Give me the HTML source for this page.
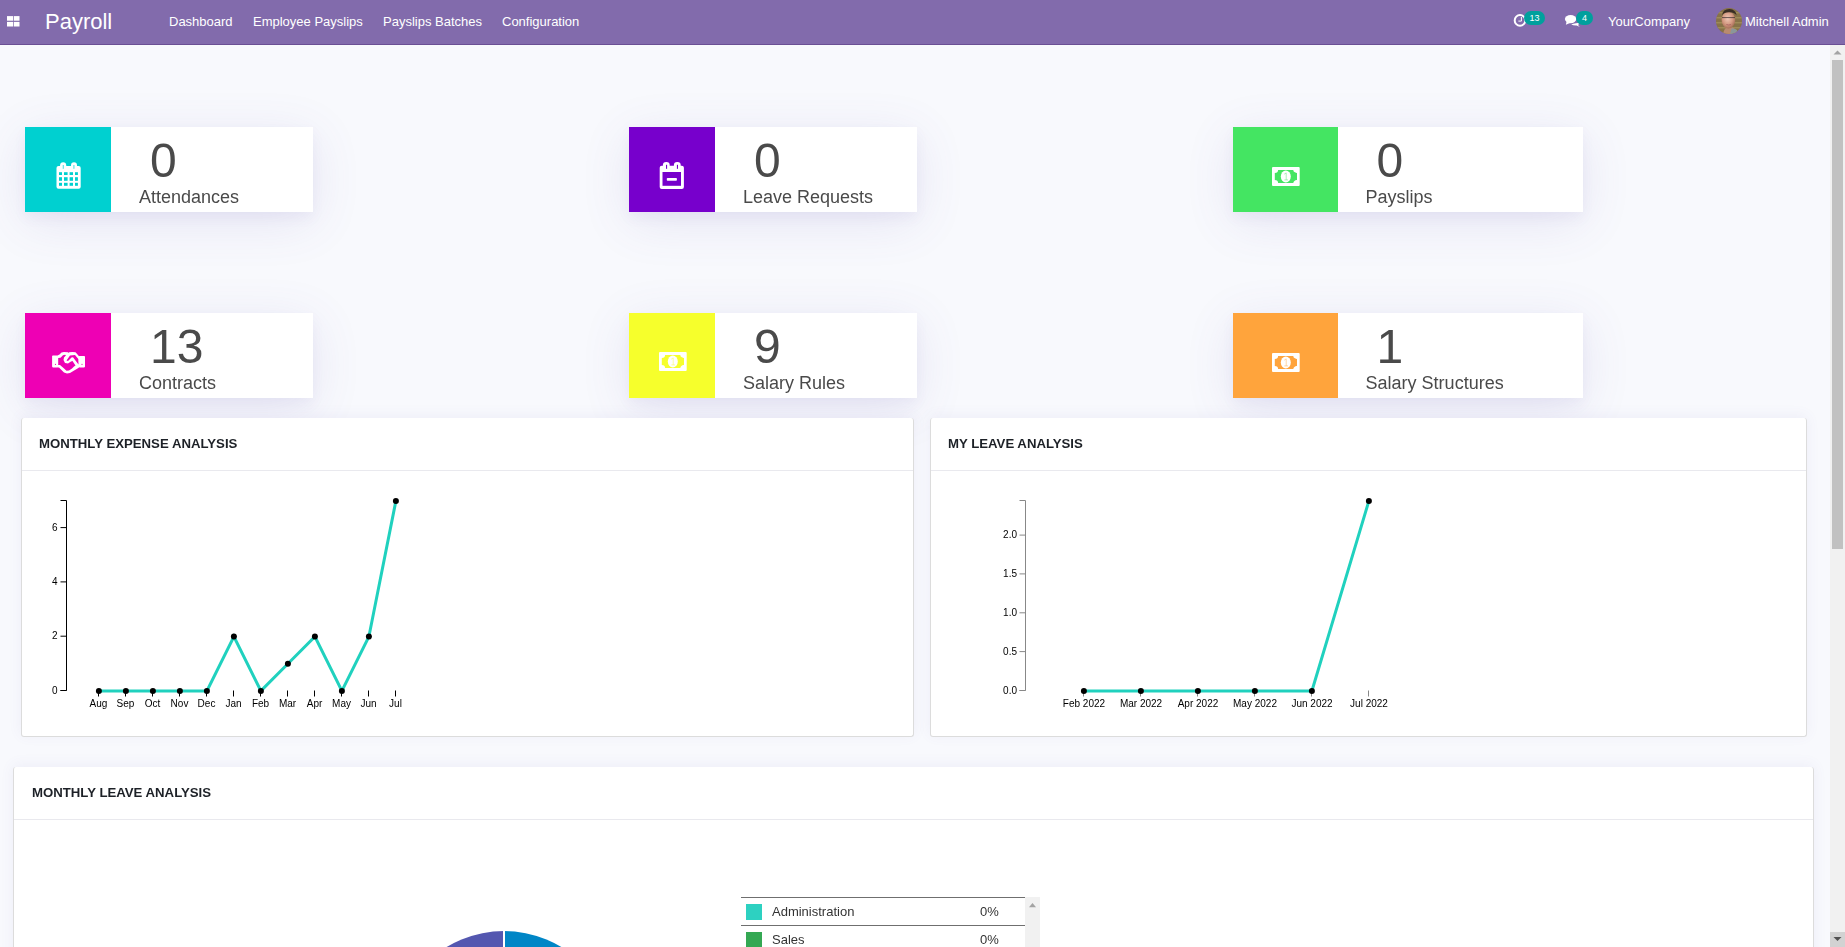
<!DOCTYPE html>
<html>
<head>
<meta charset="utf-8">
<style>
html,body{margin:0;padding:0;}
body{width:1845px;height:947px;overflow:hidden;position:relative;background:#f8f9fd;font-family:"Liberation Sans",sans-serif;}
.abs{position:absolute;}
.gs{will-change:transform;}
#nav{left:0;top:0;width:1845px;height:44px;background:#826bac;border-bottom:1px solid #6a4f94;}
.nav-t{position:absolute;color:#fff;font-size:13px;line-height:15px;white-space:nowrap;}
.card{will-change:transform;position:absolute;height:85px;background:#fff;box-shadow:0 6px 12px rgba(95,85,170,0.06),0 10px 50px rgba(95,85,170,0.12);}
.card .ic{position:absolute;left:0;top:0;height:85px;}
.card .num{position:absolute;font-size:48px;line-height:55px;color:#4a4a4a;white-space:nowrap;}
.card .lbl{position:absolute;font-size:18px;line-height:21px;color:#4a4a4a;white-space:nowrap;}
.panel{will-change:transform;position:absolute;background:#fff;border:1px solid #dcdcdc;border-top:0;border-radius:3px;box-shadow:0 -2px 14px rgba(95,85,170,0.07);}
.panel .hd{position:absolute;left:0;top:0;right:0;height:52px;border-bottom:1px solid #e9e9ee;}
.panel .ttl{position:absolute;font-size:13.2px;font-weight:bold;color:#1d2127;white-space:nowrap;line-height:15px;}
svg text{font-family:"Liberation Sans",sans-serif;}
</style>
</head>
<body>
<!-- NAVBAR -->
<div id="nav" class="abs">
  <svg class="abs" style="left:6.8px;top:15.5px" width="13" height="12" viewBox="0 0 13 12">
    <rect x="0" y="0.1" width="6.2" height="4.6" fill="#fff"/>
    <rect x="6.9" y="0.1" width="5.6" height="4.6" fill="#fff"/>
    <rect x="0" y="5.9" width="6.2" height="4.6" fill="#fff"/>
    <rect x="6.9" y="5.9" width="5.6" height="4.6" fill="#fff"/>
  </svg>
  <div class="nav-t" style="left:45px;top:9px;font-size:22px;line-height:25px;">Payroll</div>
  <div class="nav-t" style="left:169px;top:14px;">Dashboard</div>
  <div class="nav-t" style="left:253px;top:14px;">Employee Payslips</div>
  <div class="nav-t" style="left:383px;top:14px;">Payslips Batches</div>
  <div class="nav-t" style="left:502px;top:14px;">Configuration</div>

  <!-- activity clock -->
  <svg class="abs" style="left:1512px;top:12px" width="16" height="17" viewBox="0 0 16 17">
    <circle cx="8" cy="8.4" r="5.3" fill="none" stroke="#fff" stroke-width="2"/>
    <path d="M9.4 5V9.1H6.4" fill="none" stroke="#fff" stroke-width="1"/>
  </svg>
  <div class="abs" style="left:1524px;top:11px;width:21px;height:14px;border-radius:7px;background:#00a09d;color:#fff;font-size:9px;line-height:14px;text-align:center;">13</div>
  <!-- chat -->
  <svg class="abs" style="left:1564px;top:13px" width="18" height="16" viewBox="0 0 18 16">
    <ellipse cx="6.6" cy="6.1" rx="5.7" ry="4.2" fill="#fff"/>
    <path d="M2.6 8.6 L1.9 11.7 L6 9.9Z" fill="#fff"/>
    <path d="M7.2 11.4 Q9 10.6 12 10.2 Q14.5 10 15 9.5 L14.3 12.6 L16 14 L12.6 12.5 Q9 12.6 7.2 11.4Z" fill="#fff"/>
  </svg>
  <div class="abs" style="left:1576px;top:11px;width:17px;height:14px;border-radius:7px;background:#00a09d;color:#fff;font-size:9px;line-height:14px;text-align:center;">4</div>
  <div class="nav-t" style="left:1608px;top:14px;">YourCompany</div>
  <!-- avatar -->
  <svg class="abs" style="left:1716px;top:8px" width="26" height="26" viewBox="0 0 26 26">
    <defs><clipPath id="av"><circle cx="13" cy="13" r="13"/></clipPath>
    <radialGradient id="fg" cx="0.45" cy="0.4" r="0.6"><stop offset="0" stop-color="#f0c8b8"/><stop offset="0.6" stop-color="#d49a82"/><stop offset="1" stop-color="#a86e58"/></radialGradient></defs>
    <g clip-path="url(#av)">
      <rect width="26" height="26" fill="#877248"/>
      <rect x="0" y="4" width="26" height="1.5" fill="#a89560" opacity=".7"/>
      <rect x="0" y="9" width="26" height="1.5" fill="#a89560" opacity=".7"/>
      <rect x="0" y="14" width="26" height="1.5" fill="#a89560" opacity=".7"/>
      <rect x="0" y="19" width="26" height="1.5" fill="#a89560" opacity=".7"/>
      <path d="M0 18 L6 26 H0Z" fill="#6a4e34" opacity=".8"/>
      <path d="M7 26 Q8 20 12 19 Q17 19 19 21 L21 26Z" fill="#b98a70"/>
      <path d="M14 26 L15.5 20.5 Q19 20 21 22 L22 26Z" fill="#8a969a"/>
      <ellipse cx="12.4" cy="12" rx="6.8" ry="8.6" fill="url(#fg)"/>
      <path d="M6 7 Q7 1 13.5 1 Q20 1.5 20.6 7.5 Q19 4.5 13 4.2 Q8 4.5 6 7Z" fill="#3a2e24"/>
      <path d="M6 9.6 H19" stroke="#3c3030" stroke-width="1" opacity=".75"/>
      <path d="M10.4 16.5 Q12.7 17.6 15 16.5" stroke="#b06868" stroke-width="1" fill="none"/>
    </g>
  </svg>
  <div class="nav-t" style="left:1745px;top:14px;">Mitchell Admin</div>
</div>

<!-- CARDS ROW 1 -->
<div class="card" style="left:25px;top:127px;width:288px;">
  <div class="ic" style="width:86px;background:#00d0d0;"></div>
  <div class="num" style="left:125px;top:6px;">0</div>
  <div class="lbl" style="left:114px;top:60px;">Attendances</div>
</div>
<div class="card" style="left:629px;top:127px;width:288px;">
  <div class="ic" style="width:86px;background:#7700cc;"></div>
  <div class="num" style="left:125px;top:6px;">0</div>
  <div class="lbl" style="left:114px;top:60px;">Leave Requests</div>
</div>
<div class="card" style="left:1233px;top:127px;width:350px;">
  <div class="ic" style="width:105px;background:#44e562;"></div>
  <div class="num" style="left:143.6px;top:6px;">0</div>
  <div class="lbl" style="left:132.6px;top:60px;">Payslips</div>
</div>
<!-- CARDS ROW 2 -->
<div class="card" style="left:25px;top:313px;width:288px;">
  <div class="ic" style="width:86px;background:#ee00b4;"></div>
  <div class="num" style="left:125px;top:6px;">13</div>
  <div class="lbl" style="left:114px;top:60px;">Contracts</div>
</div>
<div class="card" style="left:629px;top:313px;width:288px;">
  <div class="ic" style="width:86px;background:#f6ff2c;"></div>
  <div class="num" style="left:125px;top:6px;">9</div>
  <div class="lbl" style="left:114px;top:60px;">Salary Rules</div>
</div>
<div class="card" style="left:1233px;top:313px;width:350px;">
  <div class="ic" style="width:105px;background:#ffa43c;"></div>
  <div class="num" style="left:143.6px;top:6px;">1</div>
  <div class="lbl" style="left:132.6px;top:60px;">Salary Structures</div>
</div>

<!-- PANELS -->
<div class="panel" style="left:21px;top:418px;width:891px;height:318px;">
  <div class="hd"></div>
  <div class="ttl" style="left:17px;top:18px;">MONTHLY EXPENSE ANALYSIS</div>
</div>
<div class="panel" style="left:930px;top:418px;width:875px;height:318px;">
  <div class="hd"></div>
  <div class="ttl" style="left:17px;top:18px;">MY LEAVE ANALYSIS</div>
</div>
<div class="panel" style="left:13px;top:767px;width:1799px;height:400px;">
  <div class="hd"></div>
  <div class="ttl" style="left:18px;top:18px;">MONTHLY LEAVE ANALYSIS</div>
</div>


<!-- ICONS -->
<svg class="abs" style="left:52px;top:158px" width="34" height="34" viewBox="0 0 34 34">
  <rect x="4.5" y="7.9" width="24.2" height="22.8" rx="2" fill="#fff"/>
  <rect x="8.1" y="4.3" width="6.1" height="8" rx="3" fill="#fff"/>
  <rect x="19" y="4.3" width="6" height="8" rx="3" fill="#fff"/>
  <g fill="#00d0d0">
  <rect x="10.7" y="7" width="1.2" height="3.8" opacity=".6"/><rect x="21.3" y="7" width="1.2" height="3.8" opacity=".6"/>
  <rect x="7" y="14.2" width="3" height="2.8"/><rect x="12" y="14.2" width="3.6" height="2.8"/><rect x="17.6" y="14.2" width="3.4" height="2.8"/><rect x="23" y="14.2" width="2.9" height="2.8"/>
  <rect x="7" y="19.2" width="3" height="3.6"/><rect x="12" y="19.2" width="3.6" height="3.6"/><rect x="17.6" y="19.2" width="3.4" height="3.6"/><rect x="23" y="19.2" width="2.9" height="3.6"/>
  <rect x="7" y="24.8" width="3" height="3"/><rect x="12" y="24.8" width="3.6" height="3"/><rect x="17.6" y="24.8" width="3.4" height="3"/><rect x="23" y="24.8" width="2.9" height="3"/>
  </g>
</svg>
<svg class="abs" style="left:655px;top:158px" width="34" height="34" viewBox="0 0 34 34">
  <rect x="4.7" y="7.7" width="24.2" height="23.2" rx="2" fill="#fff"/>
  <rect x="7.9" y="3.9" width="6.8" height="8" rx="3.2" fill="#fff"/>
  <rect x="18.9" y="3.9" width="6.8" height="8" rx="3.2" fill="#fff"/>
  <g fill="#7700cc">
  <rect x="11" y="6.8" width="1.1" height="4"/><rect x="21.9" y="6.8" width="1.1" height="4"/>
  <rect x="7.5" y="14" width="18.5" height="13.8"/>
  </g>
  <rect x="11.8" y="19.9" width="10.1" height="2.9" rx="0.8" fill="#fff"/>
</svg>
<svg class="abs" style="left:1268px;top:162px" width="36" height="30" viewBox="0 0 36 30">
  <rect x="4" y="4.9" width="27.7" height="19" rx="1" fill="#fff"/>
  <path d="M10.1 7.9H25.3A3.4 3 0 0 0 29 10.9V18.1A3.4 3 0 0 0 25.3 21.1H10.1A3.4 3 0 0 0 6.8 18.1V10.9A3.4 3 0 0 0 10.1 7.9Z" fill="#44e562"/>
  <ellipse cx="17.8" cy="14.6" rx="5" ry="6" fill="#fff"/>
  <path d="M16.2 12.2L18.2 10.9V17.8M16.3 17.9H20" stroke="#44e562" stroke-width="1" fill="none" opacity="0.45"/>
</svg>
<svg class="abs" style="left:655px;top:347px" width="36" height="30" viewBox="0 0 36 30">
  <rect x="4" y="4.9" width="27.7" height="19" rx="1" fill="#fff"/>
  <path d="M10.1 7.9H25.3A3.4 3 0 0 0 29 10.9V18.1A3.4 3 0 0 0 25.3 21.1H10.1A3.4 3 0 0 0 6.8 18.1V10.9A3.4 3 0 0 0 10.1 7.9Z" fill="#f6ff2c"/>
  <ellipse cx="17.8" cy="14.6" rx="5" ry="6" fill="#fff"/>
  <path d="M16.2 12.2L18.2 10.9V17.8M16.3 17.9H20" stroke="#f6ff2c" stroke-width="1" fill="none" opacity="0.45"/>
</svg>
<svg class="abs" style="left:1268px;top:348px" width="36" height="30" viewBox="0 0 36 30">
  <rect x="4" y="4.9" width="27.7" height="19" rx="1" fill="#fff"/>
  <path d="M10.1 7.9H25.3A3.4 3 0 0 0 29 10.9V18.1A3.4 3 0 0 0 25.3 21.1H10.1A3.4 3 0 0 0 6.8 18.1V10.9A3.4 3 0 0 0 10.1 7.9Z" fill="#ffa43c"/>
  <ellipse cx="17.8" cy="14.6" rx="5" ry="6" fill="#fff"/>
  <path d="M16.2 12.2L18.2 10.9V17.8M16.3 17.9H20" stroke="#ffa43c" stroke-width="1" fill="none" opacity="0.45"/>
</svg>
<svg class="abs" style="left:48px;top:345px" width="42" height="35" viewBox="0 0 42 35">
  <rect x="4.1" y="10.5" width="5.9" height="11.9" rx="0.8" fill="#fff"/>
  <rect x="30.7" y="11.1" width="6.3" height="11.3" rx="0.8" fill="#fff"/>
  <path d="M9.5 10.5L11.5 9.5L13.5 7.5L16 7L20 7.3L20.5 7.9L21 7.3L24.5 7L27.5 7.3L29.5 9.5L31 11.2V22.4L29.5 23.5L22 28L19 28.5L16 27.5L11 22.6L9.5 22.4Z" fill="#fff"/>
  <path d="M10.2 13L12.5 12.7L15 10.2L17 9.8L18 10.3L16 12.5L15.5 15L17 18L20 18.5L23 16.5L24.5 16L27.5 20.5L26 21.5L24 23.5L21 25.5L18.5 25.8L15.5 23L12 20L10.2 20Z" fill="#ee00b4"/>
  <path d="M18.5 15.5L22 10.5L27 10L30.3 14L30.5 19.5L25 12.3L23.5 12.5L20 16Z" fill="#ee00b4"/>
  <circle cx="7.5" cy="19.3" r="0.6" fill="#ee00b4"/><circle cx="34" cy="19.3" r="0.6" fill="#ee00b4"/>
</svg>
<!-- CHARTS -->
<svg class="abs" style="left:0;top:0;overflow:visible;will-change:transform" width="1845" height="947" font-size="10" fill="#000">
<path d="M60.5,500.5H66.5V690.5H60.5" fill="none" stroke="#000" stroke-width="1"/>
<line x1="60.5" x2="66.5" y1="690.5" y2="690.5" stroke="#000"/>
<text x="57.5" y="693.7" text-anchor="end">0</text>
<line x1="60.5" x2="66.5" y1="636.2" y2="636.2" stroke="#000"/>
<text x="57.5" y="639.4" text-anchor="end">2</text>
<line x1="60.5" x2="66.5" y1="581.9" y2="581.9" stroke="#000"/>
<text x="57.5" y="585.1" text-anchor="end">4</text>
<line x1="60.5" x2="66.5" y1="527.6" y2="527.6" stroke="#000"/>
<text x="57.5" y="530.8" text-anchor="end">6</text>
<line x1="98.5" x2="98.5" y1="690.5" y2="696.5" stroke="#000"/>
<text x="98.5" y="706.6" text-anchor="middle">Aug</text>
<line x1="125.5" x2="125.5" y1="690.5" y2="696.5" stroke="#000"/>
<text x="125.5" y="706.6" text-anchor="middle">Sep</text>
<line x1="152.5" x2="152.5" y1="690.5" y2="696.5" stroke="#000"/>
<text x="152.5" y="706.6" text-anchor="middle">Oct</text>
<line x1="179.5" x2="179.5" y1="690.5" y2="696.5" stroke="#000"/>
<text x="179.5" y="706.6" text-anchor="middle">Nov</text>
<line x1="206.5" x2="206.5" y1="690.5" y2="696.5" stroke="#000"/>
<text x="206.5" y="706.6" text-anchor="middle">Dec</text>
<line x1="233.5" x2="233.5" y1="690.5" y2="696.5" stroke="#000"/>
<text x="233.5" y="706.6" text-anchor="middle">Jan</text>
<line x1="260.5" x2="260.5" y1="690.5" y2="696.5" stroke="#000"/>
<text x="260.5" y="706.6" text-anchor="middle">Feb</text>
<line x1="287.5" x2="287.5" y1="690.5" y2="696.5" stroke="#000"/>
<text x="287.5" y="706.6" text-anchor="middle">Mar</text>
<line x1="314.5" x2="314.5" y1="690.5" y2="696.5" stroke="#000"/>
<text x="314.5" y="706.6" text-anchor="middle">Apr</text>
<line x1="341.5" x2="341.5" y1="690.5" y2="696.5" stroke="#000"/>
<text x="341.5" y="706.6" text-anchor="middle">May</text>
<line x1="368.5" x2="368.5" y1="690.5" y2="696.5" stroke="#000"/>
<text x="368.5" y="706.6" text-anchor="middle">Jun</text>
<line x1="395.5" x2="395.5" y1="690.5" y2="696.5" stroke="#000"/>
<text x="395.5" y="706.6" text-anchor="middle">Jul</text>
<polyline points="98.9,690.9 125.9,690.9 152.9,690.9 179.9,690.9 206.9,690.9 233.9,636.6 260.9,690.9 287.9,663.8 314.9,636.6 341.9,690.9 368.9,636.6 395.9,500.9" fill="none" stroke="#20d1be" stroke-width="3"/>
<circle cx="98.9" cy="690.9" r="3"/>
<circle cx="125.9" cy="690.9" r="3"/>
<circle cx="152.9" cy="690.9" r="3"/>
<circle cx="179.9" cy="690.9" r="3"/>
<circle cx="206.9" cy="690.9" r="3"/>
<circle cx="233.9" cy="636.6" r="3"/>
<circle cx="260.9" cy="690.9" r="3"/>
<circle cx="287.9" cy="663.8" r="3"/>
<circle cx="314.9" cy="636.6" r="3"/>
<circle cx="341.9" cy="690.9" r="3"/>
<circle cx="368.9" cy="636.6" r="3"/>
<circle cx="395.9" cy="500.9" r="3"/>
<path d="M1019.5,500.5H1025.5V690.5H1019.5" fill="none" stroke="#888" stroke-width="1"/>
<line x1="1019.5" x2="1025.5" y1="690.5" y2="690.5" stroke="#888"/>
<text x="1017.0" y="693.7" text-anchor="end">0.0</text>
<line x1="1019.5" x2="1025.5" y1="651.6" y2="651.6" stroke="#888"/>
<text x="1017.0" y="654.8" text-anchor="end">0.5</text>
<line x1="1019.5" x2="1025.5" y1="612.8" y2="612.8" stroke="#888"/>
<text x="1017.0" y="616.0" text-anchor="end">1.0</text>
<line x1="1019.5" x2="1025.5" y1="573.9" y2="573.9" stroke="#888"/>
<text x="1017.0" y="577.1" text-anchor="end">1.5</text>
<line x1="1019.5" x2="1025.5" y1="535.1" y2="535.1" stroke="#888"/>
<text x="1017.0" y="538.3" text-anchor="end">2.0</text>
<line x1="1083.5" x2="1083.5" y1="690.5" y2="696.5" stroke="#888"/>
<text x="1084.0" y="706.6" text-anchor="middle">Feb 2022</text>
<line x1="1140.5" x2="1140.5" y1="690.5" y2="696.5" stroke="#888"/>
<text x="1141.0" y="706.6" text-anchor="middle">Mar 2022</text>
<line x1="1197.5" x2="1197.5" y1="690.5" y2="696.5" stroke="#888"/>
<text x="1198.0" y="706.6" text-anchor="middle">Apr 2022</text>
<line x1="1254.5" x2="1254.5" y1="690.5" y2="696.5" stroke="#888"/>
<text x="1255.0" y="706.6" text-anchor="middle">May 2022</text>
<line x1="1311.5" x2="1311.5" y1="690.5" y2="696.5" stroke="#888"/>
<text x="1312.0" y="706.6" text-anchor="middle">Jun 2022</text>
<line x1="1368.5" x2="1368.5" y1="690.5" y2="696.5" stroke="#888"/>
<text x="1369.0" y="706.6" text-anchor="middle">Jul 2022</text>
<polyline points="1083.9,690.9 1140.9,690.9 1197.9,690.9 1254.9,690.9 1311.9,690.9 1368.9,500.9" fill="none" stroke="#20d1be" stroke-width="3"/>
<circle cx="1083.9" cy="690.9" r="3"/>
<circle cx="1140.9" cy="690.9" r="3"/>
<circle cx="1197.9" cy="690.9" r="3"/>
<circle cx="1254.9" cy="690.9" r="3"/>
<circle cx="1311.9" cy="690.9" r="3"/>
<circle cx="1368.9" cy="500.9" r="3"/>
</svg>

<!-- PIE + LEGEND -->
<svg class="abs" style="left:380px;top:920px" width="250" height="27" viewBox="380 920 250 27">
  <path d="M504 1042V931A111 111 0 0 1 615 1042Z" fill="#0086c6"/>
  <path d="M504 1042V931A111 111 0 0 0 393 1042Z" fill="#5457b0"/>
  <line x1="504" y1="920" x2="504" y2="1042" stroke="#fff" stroke-width="2"/>
</svg>
<div class="abs" style="left:741px;top:897px;width:284px;height:1px;background:#6f6f6f;"></div>
<div class="abs" style="left:741px;top:925px;width:284px;height:1px;background:#6f6f6f;"></div>
<div class="abs" style="left:746px;top:904px;width:16px;height:16px;background:#2dd1c1;"></div>
<div class="abs" style="left:746px;top:932px;width:16px;height:16px;background:#34a853;"></div>
<div class="abs" style="left:772px;top:904px;font-size:13px;line-height:15px;color:#333;">Administration</div>
<div class="abs" style="left:980px;top:904px;font-size:13px;line-height:15px;color:#333;">0%</div>
<div class="abs" style="left:772px;top:932px;font-size:13px;line-height:15px;color:#333;">Sales</div>
<div class="abs" style="left:980px;top:932px;font-size:13px;line-height:15px;color:#333;">0%</div>
<div class="abs" style="left:1025px;top:897px;width:15px;height:50px;background:#f1f1f1;"></div>
<svg class="abs" style="left:1025px;top:897px" width="15" height="15"><path d="M4 10.2L7.5 6L11 10.2Z" fill="#a3a3a3"/></svg>
<!-- SCROLLBAR -->
<div class="abs" style="left:1830px;top:45px;width:15px;height:902px;background:#f1f1f1;"></div>
<div class="abs" style="left:1832px;top:60px;width:11px;height:489px;background:#c1c1c1;"></div>
<svg class="abs" style="left:1830px;top:45px" width="15" height="15"><path d="M3.5 9.5 L7.5 5.5 L11.5 9.5Z" fill="#a3a3a3"/></svg>
<div class="abs" style="left:1830px;top:932px;width:15px;height:15px;background:#d2d2d2;"></div>
<svg class="abs" style="left:1830px;top:932px" width="15" height="15"><path d="M3.5 5 L11.5 5 L7.5 9Z" fill="#505050"/></svg>
</body>
</html>
